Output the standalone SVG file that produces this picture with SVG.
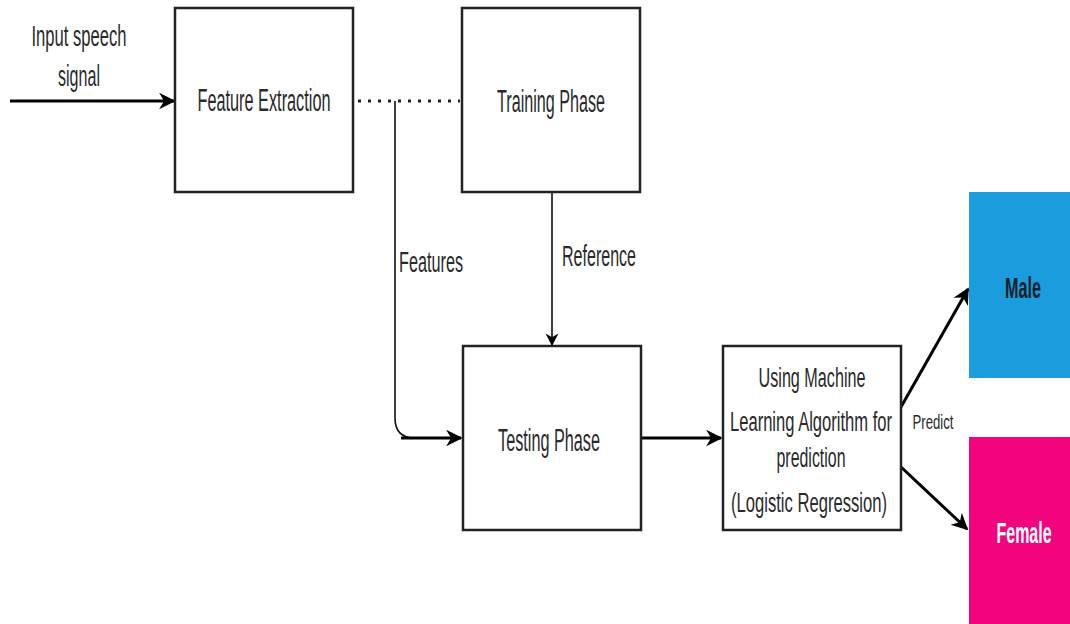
<svg xmlns="http://www.w3.org/2000/svg" width="1070" height="624" viewBox="0 0 1070 624">
<defs>
<style>
.box{fill:#fff;stroke:#222;stroke-width:2.5}
.t{font-family:"Liberation Sans",Arial,sans-serif;font-size:31px;fill:#2a2a2a;text-anchor:middle}
.m{font-size:28px}
.l{font-size:29px}
.p{font-size:21px}
.b{font-weight:bold;font-size:30px}
.thick{fill:none;stroke:#000;stroke-width:3}
.thin{fill:none;stroke:#111;stroke-width:1.6}
</style>
<marker id="ah" viewBox="0 0 10 10" refX="9" refY="5" markerWidth="5.5" markerHeight="6" orient="auto" markerUnits="strokeWidth">
<path d="M0,0 L10,5 L0,10 L3,5 Z" fill="#000"/>
</marker>
<marker id="ahs" viewBox="0 0 10 10" refX="9" refY="5" markerWidth="8" markerHeight="9" orient="auto" markerUnits="strokeWidth">
<path d="M0,0 L10,5 L0,10 L3,5 Z" fill="#000"/>
</marker>
</defs>
<rect width="1070" height="624" fill="#fff"/>
<g id="connectors">
<line class="thick" x1="10" y1="101" x2="174" y2="101" marker-end="url(#ah)"/>
<line x1="358" y1="101" x2="460" y2="101" stroke="#222" stroke-width="3" stroke-dasharray="3 7"/>
<path class="thin" d="M395,101 V418 Q395,438 415,438 H461"/>
<line class="thick" x1="401" y1="438" x2="461" y2="438" marker-end="url(#ah)"/>
<line class="thin" x1="552" y1="193" x2="552" y2="345" marker-end="url(#ahs)"/>
<line class="thick" x1="641" y1="438" x2="721" y2="438" marker-end="url(#ah)"/>
<line class="thick" x1="901" y1="407" x2="968" y2="289" marker-end="url(#ah)"/>
<line class="thick" x1="901" y1="467" x2="967" y2="529" marker-end="url(#ah)"/>
<text class="t l" transform="translate(431,272) scale(0.6,1)" textLength="106.7" lengthAdjust="spacingAndGlyphs">Features</text>
<text class="t l" transform="translate(599,266) scale(0.6,1)" textLength="123.3" lengthAdjust="spacingAndGlyphs">Reference</text>
<text class="t p" transform="translate(933,429) scale(0.6,1)" textLength="68.3" lengthAdjust="spacingAndGlyphs">Predict</text>
<text class="t l" transform="translate(79,46) scale(0.6,1)" textLength="158.3" lengthAdjust="spacingAndGlyphs">Input speech</text>
<text class="t l" transform="translate(79,86) scale(0.6,1)" textLength="70" lengthAdjust="spacingAndGlyphs">signal</text>
</g>
<g id="feature-extraction">
<rect class="box" x="175" y="8" width="178" height="184"/>
<text class="t" transform="translate(264,111) scale(0.6,1)" textLength="221.7" lengthAdjust="spacingAndGlyphs">Feature Extraction</text>
</g>
<g id="training-phase">
<rect class="box" x="462" y="8" width="178" height="184"/>
<text class="t" transform="translate(551,112) scale(0.6,1)" textLength="180" lengthAdjust="spacingAndGlyphs">Training Phase</text>
</g>
<g id="testing-phase">
<rect class="box" x="463" y="346" width="178" height="184"/>
<text class="t" transform="translate(549,451) scale(0.6,1)" textLength="170" lengthAdjust="spacingAndGlyphs">Testing Phase</text>
</g>
<g id="ml-algorithm">
<rect class="box" x="723" y="346" width="178" height="184"/>
<text class="t m" transform="translate(812,387) scale(0.6,1)" textLength="178.3" lengthAdjust="spacingAndGlyphs">Using Machine</text>
<text class="t m" transform="translate(811,431) scale(0.6,1)" textLength="270" lengthAdjust="spacingAndGlyphs">Learning Algorithm for</text>
<text class="t m" transform="translate(811,467) scale(0.6,1)" textLength="115" lengthAdjust="spacingAndGlyphs">prediction</text>
<text class="t m" transform="translate(809,512) scale(0.6,1)" textLength="260" lengthAdjust="spacingAndGlyphs">(Logistic Regression)</text>
</g>
<g id="male">
<rect x="969" y="192" width="101" height="186" fill="#1b9cdc"/>
<text class="t b" transform="translate(1023,298) scale(0.6,1)" style="fill:#14202c" textLength="60" lengthAdjust="spacingAndGlyphs">Male</text>
</g>
<g id="female">
<rect x="969" y="437" width="101" height="187" fill="#f4037f"/>
<text class="t b" transform="translate(1024,543) scale(0.6,1)" style="fill:#fff" textLength="91.7" lengthAdjust="spacingAndGlyphs">Female</text>
</g>
</svg>
